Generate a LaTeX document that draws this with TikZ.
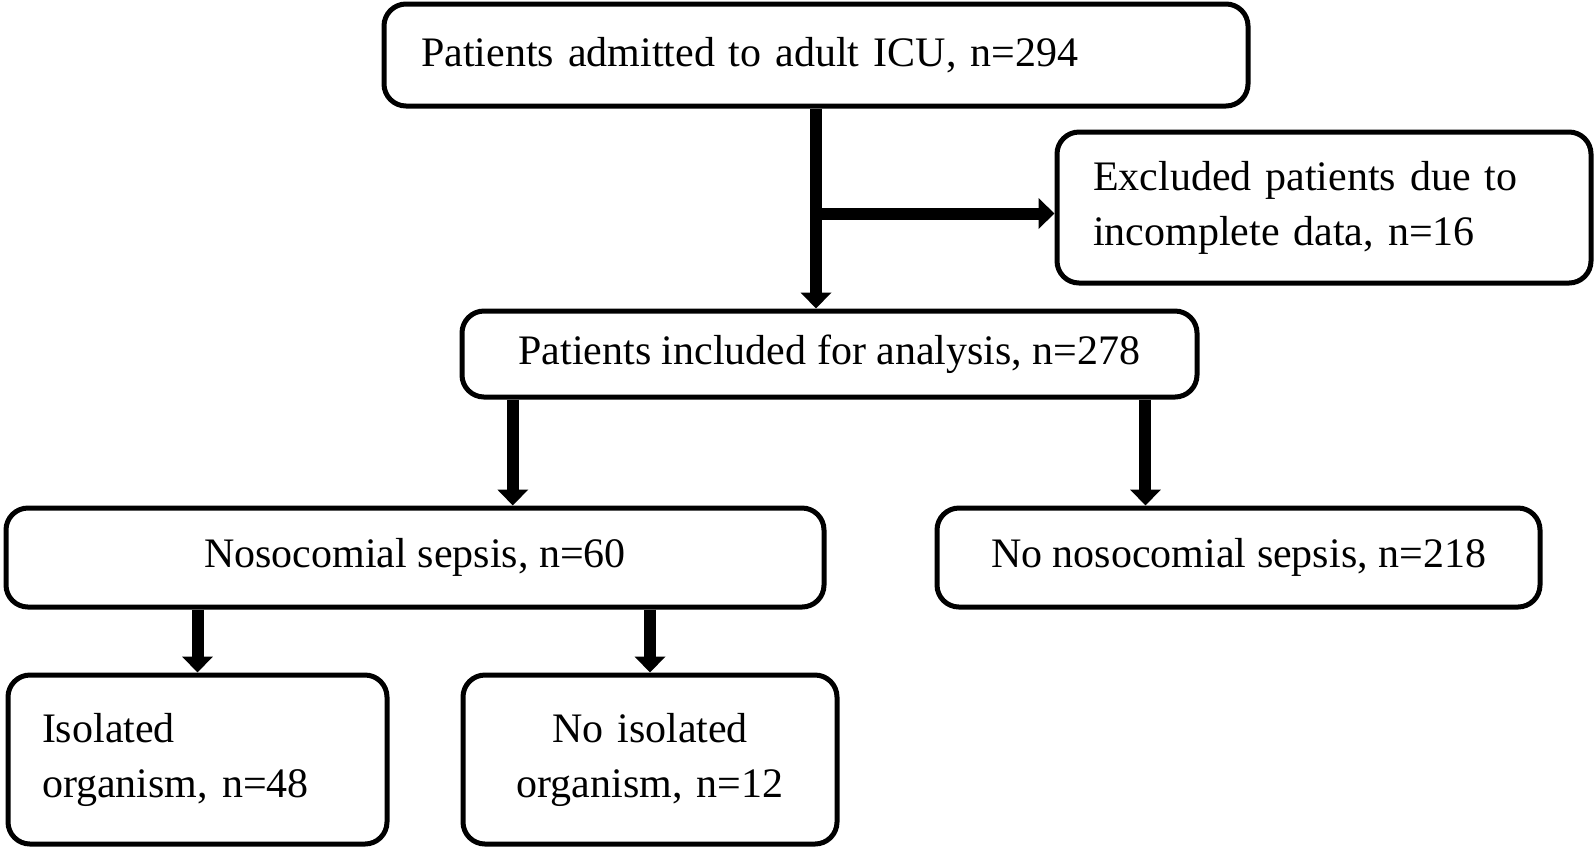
\documentclass[tikz,border=0pt]{standalone}
\usepackage{fontspec}
\setmainfont{Liberation Serif}
\usetikzlibrary{arrows.meta,calc}

\begin{document}
\begin{tikzpicture}[x=0.5pt, y=-0.5pt,
        box/.style={draw=black, line width=2.5pt, rounded corners=11pt, inner sep=0pt,
            font=\fontsize{21}{27.5}\selectfont},
        arr/.style={draw=black, line width=6pt, -{Triangle[length=8pt,width=15pt]}}]
            \useasboundingbox (0,0) rectangle (1594,848);

            \node[box, minimum width=432pt, minimum height=51pt, text width=395pt, align=left]
                (admitted) at (816,55) {Patients admitted to adult ICU, n=294};
            \node[box, minimum width=267pt, minimum height=75.5pt, text width=231pt, align=left]
                (excluded) at (1324,207.5) {Excluded patients due to\\incomplete data, n=16};
            \node[box, minimum width=367.5pt, minimum height=43pt, align=center]
                (included) at (829.5,354) {Patients included for analysis, n=278};
            \node[box, minimum width=409pt, minimum height=49.5pt, align=center]
                (sepsis) at (415,557.5) {Nosocomial sepsis, n=60};
            \node[box, minimum width=301.5pt, minimum height=49.5pt, align=center]
                (nosepsis) at (1238.5,557.5) {No nosocomial sepsis, n=218};
            \node[box, minimum width=189.5pt, minimum height=84.5pt, text width=155.5pt, align=left]
                (isolated) at (197.5,759.5) {Isolated\\organism, n=48};
            \node[box, minimum width=187pt, minimum height=84.5pt, text width=160pt, align=center]
                (notisolated) at (650,759.5) {No isolated\\organism, n=12};

            \coordinate (split) at ([yshift=-3pt]admitted.south |- excluded.west);
            \coordinate (inleft) at ($(included.south west)!0.072!(included.south east)$);
            \coordinate (inright) at ($(included.south west)!0.927!(included.south east)$);

            \draw[arr] (admitted.south) -- (admitted.south |- included.north);
            \draw[arr] (split) -- (split -| excluded.west);
            \draw[arr] (inleft) -- (inleft |- sepsis.north);
            \draw[arr] (inright) -- (inright |- nosepsis.north);
            \draw[arr] (sepsis.south -| isolated.north) -- (isolated.north);
            \draw[arr] (sepsis.south -| notisolated.north) -- (notisolated.north);

        \end{tikzpicture}
\end{document}
